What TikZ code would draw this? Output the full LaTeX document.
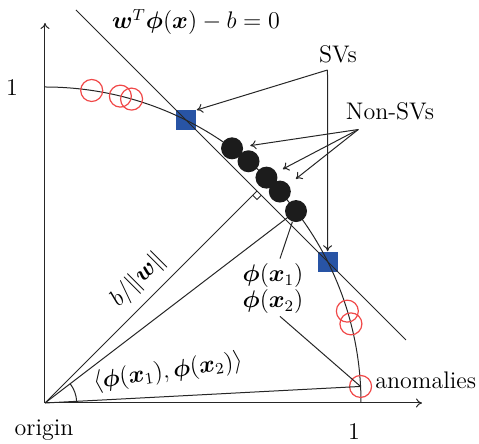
\documentclass[tikz,border=0pt]{standalone}
\usepackage{amsmath,bm}
\usetikzlibrary{arrows.meta}
\definecolor{svblue}{RGB}{40,84,165}
\definecolor{anred}{RGB}{240,72,72}
\definecolor{dotblack}{RGB}{28,28,28}
\begin{document}
\begin{tikzpicture}[x=0.5pt,y=0.5pt,
  thinline/.style={line width=0.5pt, black!85},
  tipped/.style={thinline, -{To[length=3pt,width=4.5pt]}},
  anomaly/.style={circle, draw=anred, line width=0.6pt, minimum size=11pt, inner sep=0pt},
  nonsv/.style={circle, fill=dotblack, minimum size=11pt, inner sep=0pt},
  sv/.style={rectangle, fill=svblue, minimum size=10pt, inner sep=0pt},
  lbl/.style={font=\large, inner sep=1pt}]
\useasboundingbox (-45,-41) rectangle (434,403);
% coordinates
\coordinate (O) at (0,0);
\coordinate (xend) at (377,0);
\coordinate (yend) at (0,380);
\coordinate (hp1) at (31,393);
\coordinate (hp2) at (361,63);
\coordinate (F) at (212,212);
\coordinate (ra1) at (207.76,207.76);
\coordinate (ra2) at (212,203.52);
\coordinate (ra3) at (216.24,207.76);
\coordinate (svc) at (282.5,333);
\coordinate (nsvc) at (313.3,273.5);
% support vectors (drawn first, lines cross them)
\node[sv] (sq1) at (63.43:316) {};
\node[sv] (sq2) at (26.57:316) {};
% axes
\draw[tipped] (O) -- (xend);
\draw[tipped] (O) -- (yend);
% circle arc
\draw[thinline] (0,316) arc[start angle=90, end angle=0, radius=158pt];
% hyperplane
\draw[thinline] (hp1) -- (hp2);
% points
\node[anomaly] (r1) at (81.5:316) {};
\node[anomaly] (r2) at (76.2:316) {};
\node[anomaly] (r3) at (74.1:316) {};
\node[anomaly] (r4) at (16.9:316) {};
\node[anomaly] (r5) at (14.5:316) {};
\node[anomaly] (an) at (3.0:316) {};
% lines from origin
\draw[thinline] (O) -- (F);
\draw[thinline] (ra1) -- (ra2) -- (ra3);
\draw[thinline] (O) -- (37.4:316);
\draw[thinline] (O) -- (an.center);
\draw[thinline] (3:31.7) arc[start angle=3, end angle=37.4, radius=15.85pt];
% non-SVs
\node[nonsv] (d1) at (53.7:316) {};
\node[nonsv] (d2) at (49.9:316) {};
\node[nonsv] (d3) at (45.5:316) {};
\node[nonsv] (d4) at (42.0:316) {};
\node[nonsv] (d5) at (37.4:316) {};
% labels
\node[lbl] (ylab) at (-33,315) {1};
\node[lbl] (xlab) at (309,-29) {1};
\node[lbl] (orig) at (-1,-27) {origin};
\node[lbl, anchor=west] (anl) at (328,23) {anomalies};
\node[lbl] (svl) at (293,349) {SVs};
\node[lbl] (nsvl) at (345,292) {Non-SVs};
\node[lbl] (hpl) at (151,381) {$\bm{w}^T\bm{\phi}(\bm{x})-b=0$};
\node[lbl] (phi1) at (228,127) {$\bm{\phi}(\bm{x}_1)$};
\node[lbl] (phi2) at (228,101) {$\bm{\phi}(\bm{x}_2)$};
\node[lbl, rotate=45] (bw) at (93,123) {$b/\|\bm{w}\|$};
\node[lbl, rotate=8] (ang) at (123,31) {$\langle\bm{\phi}(\bm{x}_1),\bm{\phi}(\bm{x}_2)\rangle$};
% pointers
\draw[thinline] ([xshift=3.5pt,yshift=1.5pt]phi1.north) -- (d5);
\draw[thinline] ([xshift=3.5pt]phi2.south) -- (an.center);
\draw[tipped] (svc) -- (sq1.north east);
\draw[tipped] (svc) -- (sq2.north);
\draw[tipped, shorten >=3.5pt] (nsvc) -- (d1);
\draw[tipped, shorten >=3.5pt] (nsvc) -- (d3);
\draw[tipped, shorten >=4.5pt] (nsvc) -- (d4);
\end{tikzpicture}
\end{document}
